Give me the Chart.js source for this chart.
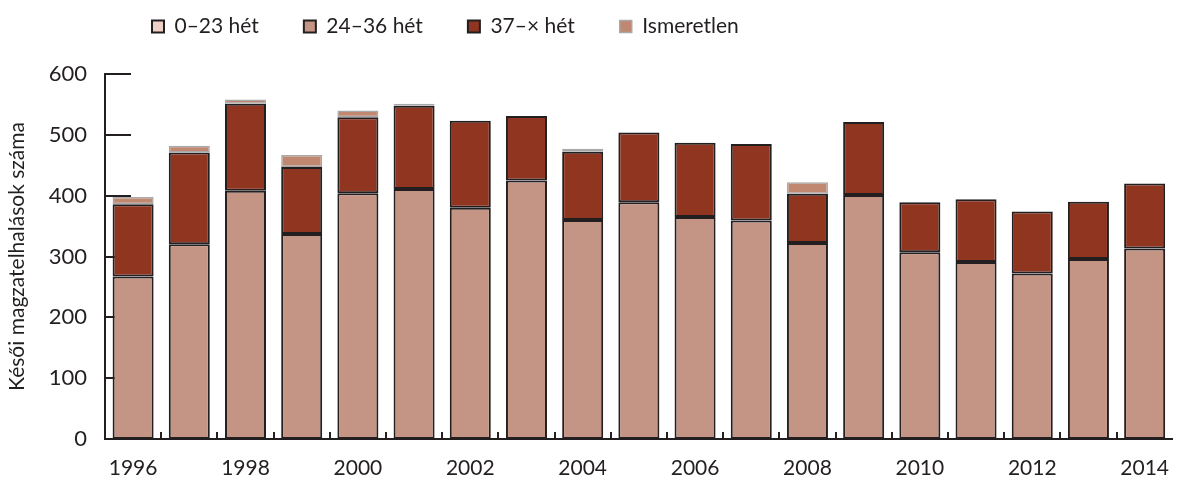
<!DOCTYPE html>
<html>
<head>
<meta charset="utf-8">
<script src="https://cdn.jsdelivr.net/npm/chart.js@4.4.1/dist/chart.umd.min.js"></script>
<style>
  html, body { margin: 0; padding: 0; background: #fff; }
  #wrap { width: 1186px; height: 477px; }
</style>
</head>
<body>
<div id="wrap"><canvas id="c" width="1186" height="477"></canvas></div>
<script>
const years = ['1996','1997','1998','1999','2000','2001','2002','2003','2004','2005','2006','2007','2008','2009','2010','2011','2012','2013','2014'];
const weeks0_23  = [0,0,0,0,0,0,0,0,0,0,0,0,0,0,0,0,0,0,0];
const weeks24_36 = [267,320,408,337,404,411,380,425,360,389,365,359,322,401,307,291,272,296,313];
const weeks37up  = [119,151,143,110,125,137,143,106,112,115,122,126,81,120,82,103,102,94,107];
const unknown    = [12,11,7,20,11,3,0,0,5,0,0,0,19,0,0,0,0,0,0];
const yTicks = [0,100,200,300,400,500,600];
const seriesNames = ['0–23 hét','24–36 hét','37–× hét','Ismeretlen'];

const INK = '#231f20';
const FONT = 'Lato, "Open Sans", sans-serif';

const tweaks = {
  id: 'tweaks',
  beforeLayout(chart) {
    const lg = chart.legend;
    if (lg && !lg._patched) {
      const fit = lg.fit;
      lg.fit = function () { fit.call(this); this.height = 74; };
      lg._patched = true;
    }
  },
  beforeDraw(chart) {
    const lg = chart.legend;
    const P = lg.options.labels.padding;
    lg.left = 152 - P;
    lg.top = 26 - P - 10;
  },
  beforeDatasetsDraw(chart) {
    const ctx = chart.ctx, y = chart.scales.y, x = chart.scales.x;
    ctx.save();
    ctx.strokeStyle = INK;
    ctx.lineWidth = 2;
    ctx.beginPath();
    yTicks.forEach(v => {
      if (v === 0) return;
      const py = Math.round(y.getPixelForValue(v));
      ctx.moveTo(x.left, py);
      ctx.lineTo(x.left + 26, py);
    });
    ctx.stroke();
    ctx.beginPath();
    for (let i = 1; i < years.length; i++) {
      const px = Math.round((x.getPixelForValue(i - 1) + x.getPixelForValue(i)) / 2);
      ctx.moveTo(px, y.bottom);
      ctx.lineTo(px, y.bottom - 7);
    }
    ctx.stroke();
    ctx.restore();
  }
};

const barCommon = { borderSkipped: false, categoryPercentage: 1, barPercentage: 0.73 };

new Chart(document.getElementById('c'), {
  type: 'bar',
  data: {
    labels: years,
    datasets: [
      Object.assign({ label: seriesNames[0], data: weeks0_23,  backgroundColor: '#efd0c5', borderColor: INK, borderWidth: 2 }, barCommon),
      Object.assign({ label: seriesNames[1], data: weeks24_36, backgroundColor: '#c49585', borderColor: INK, borderWidth: 2 }, barCommon),
      Object.assign({ label: seriesNames[2], data: weeks37up,  backgroundColor: '#8f3520', borderColor: INK, borderWidth: 2 }, barCommon),
      Object.assign({ label: seriesNames[3], data: unknown,    backgroundColor: '#c08870', borderColor: '#a8a8a8', borderWidth: 1.5 }, barCommon)
    ]
  },
  options: {
    responsive: false,
    animation: false,
    devicePixelRatio: 1,
    layout: { padding: { left: 0, right: 0, top: 0, bottom: 0 } },
    plugins: {
      tooltip: { enabled: false },
      legend: {
        position: 'top',
        align: 'start',
        labels: {
          boxWidth: 12,
          boxHeight: 12,
          padding: 45,
          color: INK,
          font: { family: FONT, size: 21 }
        }
      }
    },
    scales: {
      x: {
        stacked: true,
        grid: { display: false, drawTicks: false },
        border: { display: true, color: INK, width: 2 },
        ticks: {
          autoSkip: false,
          maxRotation: 0,
          padding: 17,
          color: INK,
          font: { family: FONT, size: 21 },
          callback: function (v, i) { return i % 2 === 0 ? years[i] : ''; }
        },
        afterFit: s => { s.height = 38; }
      },
      y: {
        stacked: true,
        min: 0,
        max: 600,
        grid: { display: false, drawTicks: false },
        border: { display: true, color: INK, width: 2 },
        afterBuildTicks: s => { s.ticks = yTicks.map(v => ({ value: v })); },
        ticks: {
          padding: 18,
          color: INK,
          font: { family: FONT, size: 22 }
        },
        title: {
          display: true,
          text: 'Késői magzatelhalások száma',
          color: INK,
          font: { family: FONT, size: 21, lineHeight: 1.2 },
          padding: { top: 5, bottom: 0 }
        },
        afterFit: s => { s.width = 105; }
      }
    }
  },
  plugins: [tweaks]
});
</script>
</body>
</html>
